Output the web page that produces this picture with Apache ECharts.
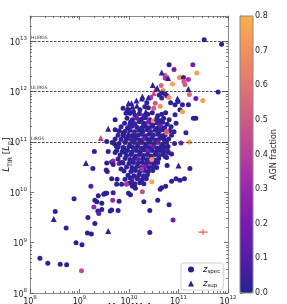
<!DOCTYPE html>
<html><head><meta charset="utf-8">
<script src="https://cdn.jsdelivr.net/npm/echarts@6/dist/echarts.min.js"></script>
<style>html,body{margin:0;padding:0;background:#fff}#c{width:287px;height:304px}</style>
</head><body><div id="c"></div>
<script>
// ---------- data (log10 values) ----------
const specLogM = [
10.02,10.12,10.21,10.30,10.38,10.47,10.58,10.66,10.74,
9.96,10.07,10.16,10.25,10.33,10.42,10.56,10.63,10.70,10.81,
9.91,10.03,10.12,10.21,10.30,10.39,10.47,10.55,10.61,10.68,10.77,
9.84,9.97,10.06,10.16,10.25,10.33,10.41,10.48,10.57,10.64,10.72,10.85,
9.80,9.92,10.02,10.11,10.20,10.28,10.37,10.44,10.53,10.61,10.69,10.82,10.91,
9.78,9.89,10.00,10.09,10.18,10.25,10.33,10.41,10.49,10.58,10.66,10.73,10.86,
9.72,9.84,9.95,10.05,10.14,10.22,10.30,10.38,10.46,10.54,10.62,10.71,10.80,
9.66,9.80,9.92,10.02,10.11,10.19,10.27,10.35,10.43,10.51,10.59,10.68,10.76,10.92,
9.78,9.90,10.00,10.08,10.17,10.25,10.33,10.41,10.49,10.57,10.65,10.73,
9.75,9.86,9.97,10.06,10.15,10.23,10.31,10.39,10.47,10.55,10.63,10.70,
9.82,9.95,10.04,10.13,10.21,10.29,10.37,10.45,10.53,10.61,10.69,
9.78,9.92,10.02,10.11,10.19,10.28,10.36,10.44,10.52,10.60,
9.88,10.00,10.09,10.18,10.27,10.35,10.43,10.51,10.58,
9.95,10.06,10.16,10.25,10.33,10.41,10.49,10.56,
9.90,10.04,10.13,10.22,10.31,10.39,10.48,
9.98,10.10,10.20,10.29,10.37,
9.92,10.06,10.17,10.26,10.35,
10.00,10.12,10.22,10.30,
8.20,8.36,8.61,8.74,9.04,8.93,9.05,8.73,8.51,8.89,
9.16,9.24,9.17,9.31,9.23,9.27,9.30,9.29,9.35,9.37,
9.39,9.45,9.49,9.55,9.62,9.67,9.65,9.78,9.80,9.68,
9.58,9.65,9.76,9.95,10.27,10.30,10.42,10.42,9.55,9.54,
9.52,9.45,9.99,10.03,10.13,10.58,10.63,10.74,10.81,10.89,
11.23,11.12,11.03,10.86,10.46,10.46,10.26,10.76,11.15,11.05,
11.22,10.69,10.76,10.86,10.77,10.95,10.81,10.91,11.29,11.37,
10.73,10.73,11.02,11.10,11.20,11.11,11.13,10.88,10.65,10.69,
11.80,10.77,10.81,11.22,11.35,11.49,10.66,10.66,10.84,10.93,
11.08,11.20,11.03,11.08,10.93,11.30,11.35,11.52,11.87,10.55,
10.63,10.50,10.53,10.44,10.61,10.73,10.32,9.94,9.88,9.72,
9.72,9.55,10.99,10.95,10.76,10.79,10.73,10.49,9.68,9.56,
9.65,9.75,9.85,9.68,9.80,9.85,9.84,9.70,9.74,9.72,
9.88,9.92,10.02,10.09,10.66,10.16,10.02,10.05,10.07,9.88,
10.02,10.79,9.99,10.09,10.22,10.36,10.39,9.95,9.88,10.09,
9.38,9.31
];
const specLogL = [
11.57,11.53,11.56,11.52,11.55,11.58,11.52,11.55,11.58,
11.47,11.44,11.47,11.45,11.48,11.44,11.46,11.42,11.47,11.44,
11.37,11.39,11.36,11.40,11.37,11.39,11.35,11.38,11.36,11.39,11.35,
11.30,11.28,11.31,11.29,11.27,11.31,11.28,11.31,11.27,11.30,11.28,11.30,
11.22,11.21,11.23,11.20,11.23,11.21,11.24,11.20,11.23,11.21,11.24,11.22,11.20,
11.13,11.15,11.12,11.15,11.13,11.15,11.12,11.15,11.13,11.15,11.12,11.14,11.13,
11.06,11.05,11.07,11.05,11.07,11.04,11.07,11.05,11.07,11.04,11.07,11.05,11.06,
10.99,10.97,10.99,10.96,10.99,10.97,10.99,10.96,10.99,10.97,10.99,10.96,10.99,10.97,
10.90,10.88,10.91,10.89,10.91,10.88,10.91,10.89,10.91,10.88,10.91,10.89,
10.83,10.81,10.83,10.80,10.83,10.81,10.84,10.81,10.83,10.80,10.83,10.81,
10.74,10.73,10.75,10.72,10.75,10.73,10.75,10.72,10.75,10.73,10.75,
10.66,10.67,10.65,10.67,10.65,10.67,10.65,10.67,10.64,10.67,
10.58,10.57,10.59,10.57,10.59,10.57,10.59,10.57,10.59,
10.50,10.49,10.51,10.49,10.51,10.49,10.51,10.49,
10.42,10.41,10.43,10.41,10.43,10.41,10.43,
10.34,10.33,10.35,10.33,10.35,
10.26,10.25,10.27,10.25,10.27,
10.18,10.17,10.19,10.17,
8.69,8.59,8.57,8.56,8.44,9.00,8.96,9.29,9.62,9.87,
9.19,9.17,9.50,9.38,10.12,10.47,10.81,9.71,9.81,9.63,
9.58,9.78,9.96,9.98,9.63,9.84,9.65,9.64,9.82,9.99,
10.81,10.60,10.26,10.16,10.01,9.81,9.64,9.20,10.58,10.44,
9.98,9.66,9.98,9.95,10.08,9.84,10.06,10.12,9.75,9.45,
10.47,10.27,10.24,10.22,10.21,10.65,10.46,11.18,11.18,10.98,
11.00,10.89,10.69,10.76,10.53,10.27,12.53,12.44,12.53,12.37,
12.32,12.27,12.28,12.28,12.24,12.20,12.14,12.15,12.12,12.02,
11.99,11.91,11.88,11.94,11.86,11.82,11.97,11.87,11.78,11.74,
11.74,11.74,11.64,11.60,11.54,11.47,11.47,13.03,12.94,12.03,
11.71,11.67,11.77,11.88,11.93,11.95,11.70,11.57,11.67,11.44,
11.24,11.01,11.80,11.37,11.21,10.91,10.71,11.42,10.62,10.41,
10.27,10.16,10.16,10.55,10.57,10.59,10.46,10.97,10.92,10.79,
10.89,10.79,10.60,10.46,10.09,10.29,10.29,10.19,10.12,11.18,
11.35,10.79,11.64,11.60,11.64,11.78,11.68,11.05,11.12,11.12,
9.93,9.84
];
const specAgn = [
.02,.05,.02,.10,.02,.02,.02,.05,.02,
.02,.02,.15,.02,.02,.05,.02,.02,.02,.02,
.02,.02,.05,.02,.02,.20,.02,.02,.10,.02,.02,
.02,.02,.02,.02,.05,.02,.02,.02,.02,.15,.02,.02,
.02,.05,.02,.02,.02,.02,.02,.10,.02,.02,.02,.02,.02,
.02,.02,.02,.20,.02,.02,.02,.02,.05,.02,.02,.02,.02,
.02,.02,.02,.05,.02,.02,.15,.02,.02,.02,.02,.02,.02,
.02,.02,.02,.02,.02,.10,.02,.02,.02,.02,.20,.02,.02,.02,
.02,.02,.02,.02,.02,.05,.02,.02,.15,.02,.02,.02,
.02,.02,.02,.02,.02,.02,.02,.20,.02,.02,.02,.02,
.02,.02,.02,.05,.02,.02,.02,.02,.02,.05,.02,
.02,.02,.02,.02,.15,.02,.02,.02,.02,.02,
.02,.02,.02,.02,.02,.02,.10,.02,.02,
.02,.02,.02,.02,.20,.02,.02,.02,
.02,.02,.02,.02,.02,.02,.02,
.02,.02,.02,.05,.02,
.02,.15,.02,.02,.02,
.02,.02,.02,.02,
.02,.02,.02,.02,.45,.02,.02,.02,.02,.02,
.02,.02,.02,.02,.12,.02,.02,.30,.02,.05,
.15,.02,.02,.05,.02,.30,.02,.02,.02,.05,
.02,.02,.02,.35,.45,.02,.02,.02,.02,.05,
.02,.02,.02,.02,.02,.02,.02,.02,.02,.20,
.02,.02,.02,.02,.75,.70,.35,.65,.02,.20,
.75,.02,.02,.02,.02,.02,.02,.20,.20,.75,
.50,.35,.70,.05,.35,.50,.50,.75,.55,.70,
.02,.05,.70,.55,.15,.75,.02,.05,.02,.02,
.02,.02,.02,.75,.02,.02,.02,.02,.02,.50,
.70,.50,.50,.35,.02,.02,.02,.02,.02,.02,
.02,.02,.02,.02,.50,.02,.02,.70,.30,.02,
.02,.02,.02,.02,.20,.02,.02,.02,.02,.02,
.02,.02,.02,.02,.02,.02,.02,.02,.02,.02,
.02,.02,.02,.02,.02,.02,.02,.02,.02,.02,
.02,.02
];
const supLogM = [9.43,9.58,8.48,9.13,9.58,10.48,10.57,10.50,10.27,10.39,10.15,10.05,9.99,9.97,10.07,10.16,10.26,10.66,10.79,11.20,10.98,11.00,10.79,9.99,10.26,10.56,10.34,10.70];
const supLogL = [11.08,11.26,9.47,10.58,9.23,12.13,12.07,11.97,11.90,11.88,11.82,11.77,11.77,11.68,11.70,11.72,11.86,12.38,12.27,12.05,11.86,10.53,10.85,11.17,11.31,11.47,11.60,11.10];
const supAgn = [.40,.02,.02,.02,.02,.02,.02,.45,.02,.02,.02,.02,.02,.02,.02,.02,.02,.02,.02,.02,.02,.02,.02,.02,.02,.02,.02,.02];

// representative uncertainty (dex) at a reference position
const errM = [3.13e11];
const errL = [1.62e9];
const errDexM = [0.095];
const errDexL = [0.055];

const xTickExp = [8, 9, 10, 11, 12];
const yTickExp = [8, 9, 10, 11, 12, 13];
const xMin = 1e8, xMax = 1e12, yMin = 1e8, yMax = Math.pow(10, 13.5);
const lirgLevels = [1e11, 1e12, 1e13];
const lirgNames = ['LIRGS', 'ULIRGS', 'HLIRGS'];
const cbTicks = [0, 0.1, 0.2, 0.3, 0.4, 0.5, 0.6, 0.7, 0.8];
const cmap = ['#252193','#541da7','#791ab1','#9a25ad','#b93f9b','#d15986','#e47372','#f3905d','#fcaf4a'];

// ---------- build ----------
const FONT = 'DejaVu Sans';
const dataSpec = specLogM.map((m, i) => [Math.pow(10, m), Math.pow(10, specLogL[i]), specAgn[i]]);
const dataSup = supLogM.map((m, i) => [Math.pow(10, m), Math.pow(10, supLogL[i]), supAgn[i]]);
const errData = errM.map((m, i) => [m, errL[i], errDexM[i], errDexL[i]]);

const majorX = xTickExp.map(e => Math.pow(10, e));
const majorY = yTickExp.map(e => Math.pow(10, e));
const minorX = [], minorY = [];
for (let d = 8; d < 12; d++) for (let k = 2; k < 10; k++) minorX.push(k * Math.pow(10, d));
for (let d = 8; d < 14; d++) for (let k = 2; k < 10; k++) { const v = k * Math.pow(10, d); if (v < yMax) minorY.push(v); }

const AX = '#8a8a8a', TK = '#555';
const powRich = {
  b: {fontSize: 8, fontFamily: FONT, color: '#222', verticalAlign: 'bottom', lineHeight: 11},
  e: {fontSize: 5.5, fontFamily: FONT, color: '#222', verticalAlign: 'top', lineHeight: 6}
};
const powFmt = v => '{b|10}{e|' + Math.round(Math.log10(v)) + '}';

function logAxis(kind, pos, major, withLabel, extra) {
  const isX = kind === 'x';
  const a = {
    type: 'log', logBase: 10, gridIndex: 0, position: pos,
    min: isX ? xMin : yMin, max: isX ? xMax : yMax,
    axisLine: {show: major, lineStyle: {color: AX, width: 1}},
    axisTick: {show: true, inside: true, length: major ? 4 : 2,
      customValues: major ? (isX ? majorX : majorY) : (isX ? minorX : minorY),
      lineStyle: {color: TK, width: 0.8}},
    axisLabel: withLabel ? {show: true, customValues: isX ? majorX : majorY, formatter: powFmt, rich: powRich, margin: isX ? 2 : 3} : {show: false},
    splitLine: {show: false}, minorTick: {show: false}
  };
  return Object.assign(a, extra || {});
}

const nameRich = {
  i: {fontSize: 9, fontFamily: FONT, fontStyle: 'italic', color: '#111', verticalAlign: 'middle', lineHeight: 12},
  n: {fontSize: 9, fontFamily: FONT, color: '#111', verticalAlign: 'middle', lineHeight: 12},
  s: {fontSize: 6, fontFamily: FONT, color: '#111', verticalAlign: 'bottom', lineHeight: 7}
};

const chart = echarts.init(document.getElementById('c'), null, {renderer: 'canvas'});
chart.setOption({
  animation: false,
  backgroundColor: '#fff',
  grid: [
    {left: 30, top: 16, width: 198, height: 277, show: false, containLabel: false, outerBoundsMode: 'none'},
    {left: 240, top: 16, width: 13, height: 277, show: true, borderColor: '#888', borderWidth: 1, backgroundColor: 'transparent', z: 5, containLabel: false, outerBoundsMode: 'none'}
  ],
  xAxis: [
    logAxis('x', 'bottom', true, true, {name: '{i|M}{s|dust}{n| [}{i|M}{s|⊙}{n|]}', nameLocation: 'middle', nameGap: 9, nameMoveOverlap: false, nameTextStyle: {rich: nameRich}}),
    logAxis('x', 'bottom', false, false),
    logAxis('x', 'top', true, false),
    logAxis('x', 'top', false, false),
    {type: 'value', gridIndex: 1, show: false, min: 0, max: 1}
  ],
  yAxis: [
    logAxis('y', 'left', true, true, {name: '{i|L}{s|TIR}{n| [}{i|L}{s|⊙}{n|]}', nameLocation: 'middle', nameRotate: 90, nameGap: 17, nameMoveOverlap: false, nameTextStyle: {rich: nameRich}}),
    logAxis('y', 'left', false, false),
    logAxis('y', 'right', true, false),
    logAxis('y', 'right', false, false),
    {type: 'value', gridIndex: 1, position: 'right', min: 0, max: 0.8, interval: 0.1,
     axisLine: {show: true, lineStyle: {color: '#888'}},
     axisTick: {show: true, length: 2.5, lineStyle: {color: '#444', width: 0.8}},
     axisLabel: {fontSize: 8, fontFamily: FONT, color: '#222', margin: 2, formatter: v => v.toFixed(1)},
     splitLine: {show: false},
     name: 'AGN fraction', nameLocation: 'middle', nameRotate: 90, nameGap: 17, nameMoveOverlap: false,
     nameTextStyle: {fontSize: 8, fontFamily: FONT, color: '#222'}}
  ],
  visualMap: {
    type: 'continuous', min: cbTicks[0], max: cbTicks[cbTicks.length - 1], dimension: 2, seriesIndex: [0, 1],
    inRange: {color: cmap}, left: 240, top: 16, itemWidth: 13, itemHeight: 277,
    calculable: false, padding: 0, text: null, hoverLink: false, z: 1, orient: 'vertical'
  },
  legend: {
    orient: 'vertical', left: 181, top: 263, itemWidth: 6, itemHeight: 6, itemGap: 3,
    padding: [1, 3, 1, 7], borderColor: '#cfcfcf', borderWidth: 1, borderRadius: 2, backgroundColor: '#fff',
    data: [
      {name: 'z_spec', icon: 'circle', itemStyle: {color: '#2a1d8e'}},
      {name: 'z_sup', icon: 'triangle', itemStyle: {color: '#2a1d8e'}}
    ],
    formatter: n => '{z|z}{s|' + n.split('_')[1] + '}',
    textStyle: {padding: [0, 0, 0, 4], lineHeight: 11, rich: {
      z: {fontSize: 8.5, fontFamily: FONT, fontStyle: 'italic', color: '#111', verticalAlign: 'middle', lineHeight: 11},
      s: {fontSize: 5.5, fontFamily: FONT, color: '#111', verticalAlign: 'bottom', lineHeight: 7}
    }}
  },
  series: [
    {
      name: 'z_spec', type: 'scatter', xAxisIndex: 0, yAxisIndex: 0, symbol: 'circle', symbolSize: 5,
      data: dataSpec, itemStyle: {opacity: 1},
      markLine: {
        silent: true, symbol: 'none', animation: false,
        lineStyle: {type: [2.5, 1.5], color: '#333', width: 0.9},
        label: {show: true, position: 'insideStartTop', formatter: '{b}', fontSize: 4.5, fontFamily: FONT, color: '#333', distance: [1, 1], padding: 0},
        data: lirgLevels.map((v, i) => ({yAxis: v, name: lirgNames[i]}))
      }
    },
    {name: 'z_sup', type: 'scatter', xAxisIndex: 0, yAxisIndex: 0, symbol: 'triangle', symbolSize: 6, data: dataSup, itemStyle: {opacity: 1}},
    {
      name: 'err', type: 'custom', xAxisIndex: 0, yAxisIndex: 0, data: errData, z: 3,
      renderItem: (params, api) => {
        const m = api.value(0), l = api.value(1), dx = api.value(2), dy = api.value(3);
        const a = api.coord([m / Math.pow(10, dx), l]), b = api.coord([m * Math.pow(10, dx), l]);
        const c = api.coord([m, l / Math.pow(10, dy)]), d = api.coord([m, l * Math.pow(10, dy)]);
        const st = {stroke: '#f23a3a', lineWidth: 1};
        return {type: 'group', children: [
          {type: 'line', shape: {x1: a[0], y1: a[1], x2: b[0], y2: b[1]}, style: st},
          {type: 'line', shape: {x1: c[0], y1: c[1], x2: d[0], y2: d[1]}, style: st}
        ]};
      }
    }
  ]
});
</script></body></html>
